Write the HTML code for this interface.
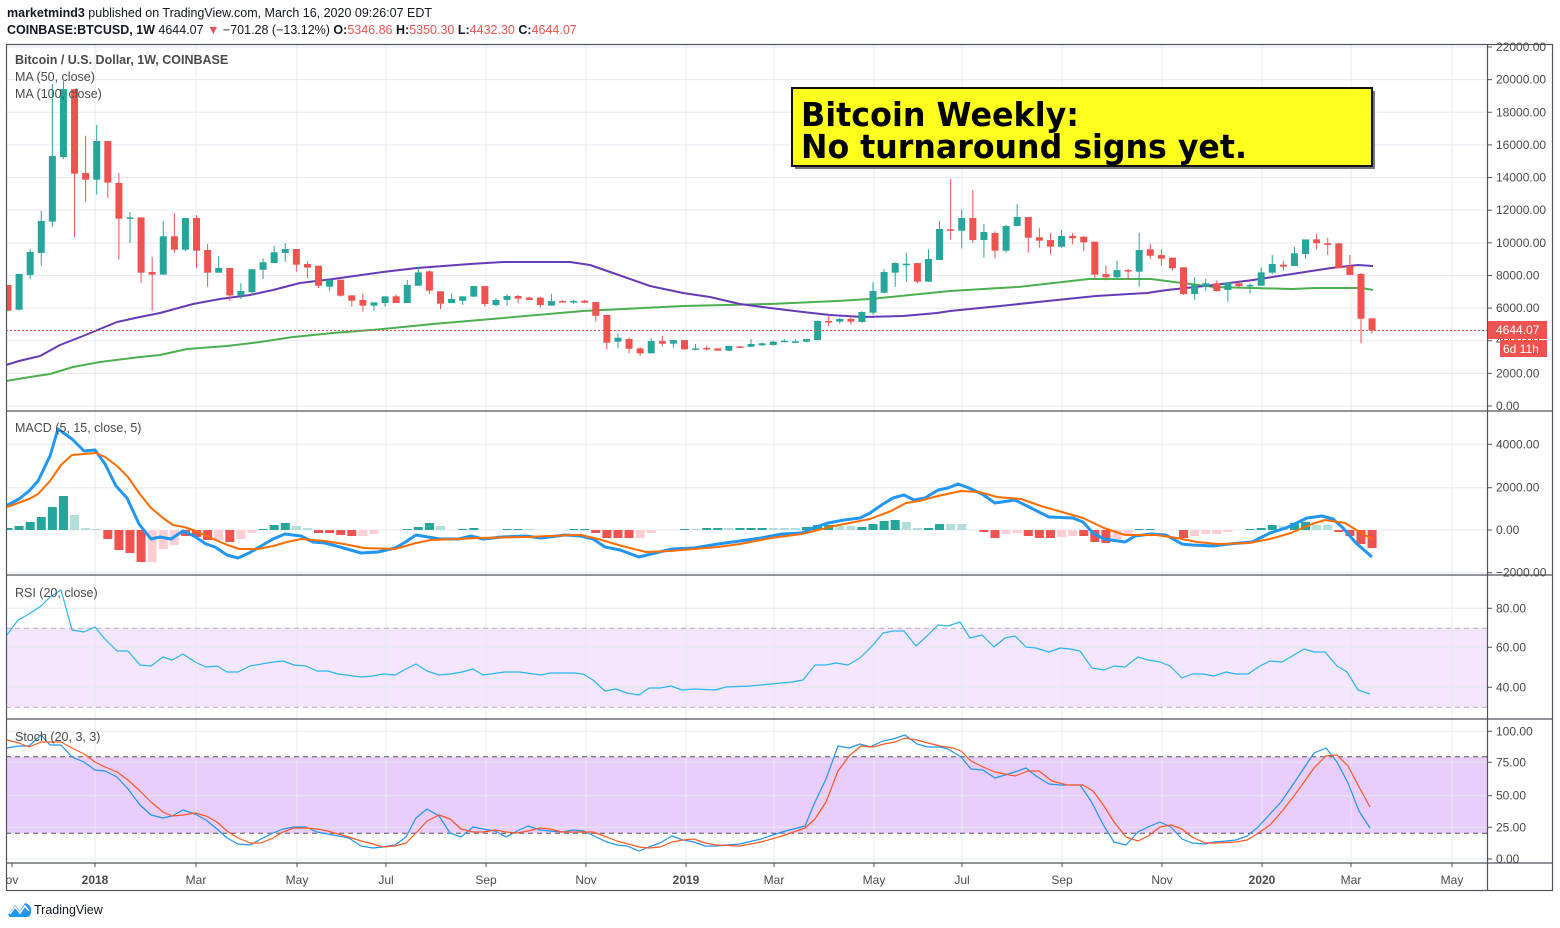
<!DOCTYPE html>
<html><head><meta charset="utf-8">
<style>
html,body{margin:0;padding:0;background:#fff;width:1560px;height:928px;overflow:hidden}
svg{display:block;font-family:"Liberation Sans",sans-serif}
</style></head>
<body>
<svg id="s" width="1560" height="928" viewBox="0 0 1560 928" xmlns="http://www.w3.org/2000/svg">
<text x="7" y="17" font-size="12.5" fill="#131722"><tspan font-weight="bold">marketmind3</tspan> published on TradingView.com, March 16, 2020 09:26:07 EDT</text>
<text x="7" y="34" font-size="12.5" fill="#131722"><tspan font-weight="bold">COINBASE:BTCUSD, 1W</tspan> 4644.07 <tspan fill="#ef5350">▼</tspan> −701.28 (−13.12%) <tspan font-weight="bold">O:</tspan><tspan fill="#ef5350">5346.86</tspan> <tspan font-weight="bold">H:</tspan><tspan fill="#ef5350">5350.30</tspan> <tspan font-weight="bold">L:</tspan><tspan fill="#ef5350">4432.30</tspan> <tspan font-weight="bold">C:</tspan><tspan fill="#ef5350">4644.07</tspan></text>
<g id="g"></g>
</svg>
<script>
(function(){
var NS="http://www.w3.org/2000/svg",G=document.getElementById('g'),out='';
function px(i){return 8+11.09*i}
function py(p){return 406-p*0.016318}
// rsi fill / stoch fill
out+='<rect x="6" y="628.3" width="1481" height="79" fill="#f4e6fd"/>';
out+='<rect x="6" y="756.7" width="1481" height="76.6" fill="#e9cdfc"/>';
// grid
var vx=[95,196,297,386,486,586,686,774,874,962,1062,1162,1262,1351,1452];
vx.forEach(function(x){out+='<line x1="'+x+'" y1="44" x2="'+x+'" y2="862" stroke="#e3eaf0" stroke-width="1"/>';});
var hy=[];for(var k=0;k<=11;k++)hy.push(406-32.636*k);
[444.3,487.7,530,572.7,608.3,647.3,687.3,731.3,762.3,795.7,827.3,859].forEach(function(y){hy.push(y)});
hy.forEach(function(y){out+='<line x1="6" y1="'+y+'" x2="1487" y2="'+y+'" stroke="#e3eaf0" stroke-width="1"/>';});
out+='<line x1="6" y1="628.3" x2="1487" y2="628.3" stroke="#b9a6c4" stroke-dasharray="5,4"/>';
out+='<line x1="6" y1="707.3" x2="1487" y2="707.3" stroke="#b9a6c4" stroke-dasharray="5,4"/>';
out+='<line x1="6" y1="756.7" x2="1487" y2="756.7" stroke="#555" stroke-dasharray="5,4"/>';
out+='<line x1="6" y1="833.3" x2="1487" y2="833.3" stroke="#555" stroke-dasharray="5,4"/>';
// MAs
function pl(pts,c,w){out+='<polyline fill="none" stroke="'+c+'" stroke-width="'+w+'" stroke-linejoin="round" points="'+pts+'"/>';}
pl("6,381 30,377 50,374 73,367 100,362 140,357 160,355 187,349 227,346 260,342 293,337 333,333 383,329 433,324 480,320 583,311 683,306 770,304 837,301 870,299 950,291 1018,287 1089,279 1151,279 1182,283 1214,287 1292,289 1315,288 1362,288 1373,290","#4caf50",2);
pl("6,365 19,361 40,356 60,345 83,336 100,329 117,322 140,317 160,313 193,304 220,299 250,295 273,290 300,283 333,279 383,272 417,268 470,264 503,262 570,262 590,265 613,273 650,286 683,293 710,297 740,304 770,308 803,312 830,315 863,317 903,316 937,313 950,311 1000,306 1057,300 1096,296 1147,293 1167,290 1214,285 1253,280 1292,274 1331,268 1358,265 1373,266","#673ab7",2);
// candles
var C=[[7415,7415,5800,5840],[5900,8100,5850,8090],[8030,9620,7780,9440],[9380,11970,8600,11340],[11300,19730,10970,15320],[15260,19900,15140,19420],[19420,19420,10360,14240],[14280,16560,12520,13870],[13870,17220,12950,16240],[16240,16240,12750,13690],[13670,14280,8970,11480],[11480,11890,9990,11560],[11560,11560,7540,8170],[8210,9130,5840,8050],[8050,11340,8050,10400],[10400,11830,9380,9580],[9580,11520,9500,11520],[11520,11690,8440,9520],[9560,9930,7310,8170],[8170,9190,8170,8460],[8460,8460,6450,6780],[6780,7540,6560,7050],[6970,8380,6800,8380],[8350,9050,7780,8810],[8760,9820,8760,9420],[9380,9990,8840,9620],[9620,9620,8230,8660],[8700,8870,7840,8480],[8600,8600,7230,7370],[7310,7740,7030,7740],[7740,7740,6700,6760],[6780,6780,6090,6450],[6500,6870,5780,6150],[6150,6350,5840,6350],[6310,6720,6100,6720],[6720,6840,6310,6310],[6310,7720,6310,7420],[7370,8540,7370,8190],[8250,8300,6860,7070],[7030,7030,5940,6270],[6310,6900,6310,6560],[6450,6720,6200,6720],[6700,7350,6700,7350],[7350,7350,6090,6250],[6190,6600,6100,6500],[6500,6860,6150,6740],[6740,6800,6300,6580],[6640,6700,6500,6500],[6640,6700,6020,6190],[6150,6860,6150,6430],[6430,6480,6380,6400],[6400,6500,6250,6430],[6450,6500,6300,6330],[6370,6370,5170,5530],[5580,5580,3470,3880],[3940,4450,3530,4180],[4100,4200,3230,3510],[3530,3600,3080,3230],[3230,4150,3230,3980],[3980,4300,3650,3820],[3820,4040,3580,4040],[4040,4040,3450,3470],[3510,3800,3420,3530],[3560,3700,3400,3530],[3530,3530,3390,3390],[3390,3700,3360,3680],[3650,3680,3590,3630],[3630,4100,3600,3800],[3720,3900,3680,3840],[3740,4000,3700,3940],[3940,4100,3900,4000],[3950,4100,3900,3960],[3940,4100,3900,4100],[4040,5250,4040,5210],[5210,5500,4900,5190],[5170,5400,5050,5330],[5330,5500,5000,5170],[5150,5800,5100,5760],[5720,7580,5600,7050],[6940,8400,6900,8210],[8170,8800,7300,8760],[8700,9400,7600,8720],[8760,8760,7500,7620],[7620,9600,7600,9010],[8950,11340,8950,10850],[10830,13910,10200,10750],[10740,12050,9660,11520],[11520,13240,10000,10170],[10170,11150,9090,10660],[10600,10700,9050,9520],[9520,11100,9400,11030],[11030,12380,11030,11580],[11580,11580,9400,10310],[10340,10900,9700,10130],[10170,10600,9300,9760],[9760,10800,9700,10420],[10420,10600,9900,10280],[10380,10380,9500,10030],[10070,10070,7800,8050],[8090,8600,7700,7890],[7890,8900,7750,8330],[8330,8400,7750,8300],[8230,10620,7310,9560],[9600,9950,9000,9210],[9250,9600,8600,9030],[9090,9100,8300,8440],[8500,8500,6800,6860],[6860,7900,6500,7420],[7310,7800,7050,7520],[7520,7700,7000,7050],[7110,7560,6390,7560],[7520,7700,7200,7350],[7400,7500,6900,7420],[7370,8500,7370,8190],[8170,9250,8100,8700],[8660,8900,8300,8540],[8580,9750,8580,9360],[9310,10200,9000,10210],[10210,10540,9600,9970],[9970,10300,9250,9870],[9970,10000,8440,8440],[8580,9250,8000,8030],[8090,8150,3840,5350],[5370,5370,4440,4640]];
C.forEach(function(c,i){
 var x=px(i),up=c[3]>=c[0],col=up?'#26a69a':'#ef5350';
 var t=py(Math.max(c[0],c[3])),b=py(Math.min(c[0],c[3]));if(b-t<1.5){b=t+1.5;}
 var xs=Math.max(x-3.5,6.5);
 out+='<line x1="'+x+'" y1="'+py(c[1])+'" x2="'+x+'" y2="'+py(c[2])+'" stroke="'+col+'" stroke-width="1"/>';
 out+='<rect x="'+xs+'" y="'+t+'" width="'+(x+3.5-xs)+'" height="'+(b-t)+'" fill="'+col+'"/>';
});
// last price line
out+='<line x1="6" y1="330.5" x2="1487" y2="330.5" stroke="#ef5350" stroke-dasharray="2,2"/>';
// MACD histogram
var H={0:[2,'g'],1:[4,'g'],2:[8,'g'],3:[13,'g'],4:[23,'g'],5:[34,'g'],6:[15,'l'],7:[2,'l'],8:[1,'l'],9:[-9,'r'],10:[-20,'r'],11:[-23,'r'],12:[-32,'r'],13:[-32,'p'],14:[-19,'p'],15:[-15,'p'],16:[-6,'r'],17:[-7,'r'],18:[-10,'r'],19:[-10,'p'],20:[-12,'r'],21:[-9,'p'],22:[-3,'p'],23:[1,'g'],24:[5,'g'],25:[7,'g'],26:[4,'l'],27:[2,'l'],28:[-3,'r'],29:[-3,'r'],30:[-5,'r'],31:[-6,'r'],32:[-6,'p'],33:[-4,'p'],36:[1,'g'],37:[3,'g'],38:[7,'g'],39:[4,'l'],41:[1,'g'],42:[2,'g'],45:[1,'g'],46:[1,'g'],47:[1,'l'],51:[1,'g'],52:[1,'g'],53:[-3,'r'],54:[-8,'r'],55:[-8,'r'],56:[-8,'r'],57:[-8,'p'],58:[-3,'p'],61:[1,'g'],62:[1,'l'],63:[2,'g'],64:[2,'g'],65:[2,'l'],66:[2,'g'],67:[2,'g'],68:[2,'g'],69:[2,'l'],70:[2,'l'],71:[2,'l'],72:[3,'g'],73:[5,'g'],74:[5,'g'],75:[4,'l'],76:[4,'l'],77:[3,'g'],78:[6,'g'],79:[9,'g'],80:[10,'g'],81:[8,'l'],82:[2,'l'],83:[2,'g'],84:[6,'g'],85:[6,'l'],86:[6,'l'],88:[-2,'r'],89:[-8,'r'],90:[-4,'p'],91:[-3,'p'],92:[-6,'r'],93:[-8,'r'],94:[-8,'r'],95:[-7,'p'],96:[-6,'p'],97:[-6,'r'],98:[-12,'r'],99:[-13,'r'],100:[-9,'p'],101:[-4,'p'],102:[1,'g'],103:[1,'g'],106:[-8,'r'],107:[-6,'p'],108:[-4,'p'],109:[-4,'p'],110:[-2,'p'],112:[1,'g'],113:[2,'g'],114:[5,'g'],115:[4,'l'],116:[7,'g'],117:[8,'g'],118:[5,'l'],119:[5,'l'],120:[-2,'r'],121:[-6,'r'],122:[-14,'r'],123:[-18,'r']};
var HC={g:'#26a69a',l:'#b2dfdb',r:'#ef5350',p:'#ffcdd2'};
for(var k in H){var v=H[k][0],x=px(+k),xs=Math.max(x-4.5,6.5);
 out+='<rect x="'+xs+'" y="'+(v>0?530-v:530)+'" width="'+(x+4.5-xs)+'" height="'+Math.abs(v)+'" fill="'+HC[H[k][1]]+'"/>';}
// MACD lines
pl("6,506 19,499 29,491 38,481 50,456 58,429 72,439 84,451 95,450 105,464 116,486 127,498 139,524 151,539 160,537 171,539 183,531 194,536 206,544 215,547 227,555 238,558 249,553 261,546 273,539 285,534 301,536 313,542 325,543 340,547 361,553 378,552 395,548 404,543 416,535 428,537 440,539 459,539 471,536 483,539 502,537 526,536 541,538 565,535 581,536 593,539 605,547 620,550 639,557 651,554 672,549 694,548 718,544 740,541 761,538 782,534 802,533 813,528 828,523 844,520 860,518 870,513 883,504 893,498 904,495 914,500 925,498 938,490 948,488 958,484 969,488 982,494 995,503 1015,500 1031,508 1049,517 1073,518 1083,522 1093,533 1104,539 1125,542 1135,536 1151,534 1166,535 1182,544 1192,545 1213,546 1229,544 1252,542 1270,533 1286,528 1307,518 1322,516 1333,519 1343,528 1356,543 1372,557","#2196f3",3);
pl("6,507 10,506 29,499 38,494 50,481 61,465 72,455 96,453 105,457 117,466 128,477 139,493 151,508 163,518 173,525 184,527 196,531 211,538 225,544 239,549 258,549 273,546 287,542 301,539 325,541 344,544 364,548 395,549 416,543 431,540 459,539 478,538 526,537 574,535 581,535 598,539 622,546 646,552 670,551 718,547 740,544 771,538 802,534 834,526 870,519 891,511 906,503 919,501 938,496 961,491 979,492 997,497 1021,499 1041,506 1062,512 1083,518 1104,528 1125,535 1156,535 1177,538 1197,542 1218,544 1249,543 1270,539 1291,533 1312,524 1325,520 1345,523 1358,531 1372,539","#ff6d00",2);
// RSI
pl("7,635 18,620 29,614 41,606 50,597 61,590 72,630 84,632 95,627 104,638 117,651 128,651 140,665 151,666 163,657 172,660 183,654 195,662 206,667 217,666 227,672 238,672 250,666 273,662 283,661 294,665 306,666 317,671 328,671 338,674 361,677 373,676 383,674 395,675 406,669 416,664 427,671 439,675 450,674 462,672 473,669 483,675 505,672 519,672 541,675 550,673 574,673 583,674 593,680 605,691 616,689 627,693 639,695 649,688 660,688 671,686 682,690 694,689 715,690 726,687 750,686 792,682 803,680 815,665 826,665 836,663 848,665 860,658 873,645 883,633 893,631 904,631 916,646 927,636 938,625 948,626 960,622 970,638 982,635 994,647 1005,638 1015,636 1026,647 1036,648 1049,652 1060,648 1070,649 1080,651 1092,668 1104,670 1114,666 1125,667 1138,657 1148,660 1160,662 1170,666 1182,678 1192,674 1203,674 1214,676 1226,672 1236,674 1248,674 1260,666 1270,661 1282,662 1294,655 1304,649 1314,652 1325,652 1337,666 1347,672 1358,690 1370,694","#29b6f6",1.2);
// Stoch
pl("7,748 19,746 29,746 41,735 50,745 61,745 72,757 84,762 95,770 105,771 117,777 128,789 140,805 151,815 163,818 172,816 183,810 195,814 206,820 217,829 227,838 238,844 250,845 261,839 273,833 283,829 294,827 306,827 317,832 328,834 338,836 349,838 361,846 373,848 383,847 395,845 406,837 416,818 427,809 439,816 450,833 461,837 473,827 483,829 495,831 506,837 517,831 528,826 540,830 550,831 562,832 573,830 584,831 596,837 607,842 617,845 627,846 639,851 649,847 660,843 672,836 683,840 694,842 705,846 716,846 727,845 740,844 761,839 782,832 805,826 815,802 826,779 838,746 849,748 860,744 870,747 883,741 893,739 905,735 917,744 928,747 940,747 948,749 961,757 971,769 983,770 995,778 1005,775 1015,772 1026,768 1036,776 1049,784 1060,785 1080,785 1091,801 1104,826 1114,842 1126,845 1138,832 1148,827 1160,822 1171,827 1182,839 1192,843 1205,844 1214,842 1226,841 1236,840 1247,836 1257,828 1270,814 1281,802 1292,786 1304,768 1314,753 1326,748 1337,762 1348,783 1359,811 1370,828","#2196f3",1.2);
pl("7,740 19,743 29,747 41,742 61,742 72,748 84,754 95,762 105,767 117,772 128,780 140,791 151,802 163,812 172,816 183,815 195,813 206,816 217,822 227,831 238,838 250,843 261,843 273,838 283,832 294,828 306,828 317,829 328,831 338,834 349,837 361,841 373,844 383,847 395,846 406,843 416,833 427,821 439,815 450,819 461,829 473,832 483,832 495,830 506,832 517,833 528,831 540,828 550,829 562,832 573,832 593,832 607,837 617,841 639,847 649,848 660,847 672,842 683,840 694,839 705,843 716,845 740,846 761,842 782,836 805,828 815,819 826,802 838,771 849,756 861,746 873,747 884,744 895,742 905,738 917,740 928,743 940,746 953,748 961,751 971,761 983,767 995,772 1015,776 1028,771 1039,771 1052,781 1067,785 1083,785 1093,791 1104,806 1114,822 1126,837 1138,841 1148,836 1160,827 1171,825 1182,829 1192,837 1205,843 1216,843 1236,842 1247,840 1257,834 1270,825 1283,810 1294,796 1304,782 1314,768 1326,756 1337,755 1348,766 1359,787 1370,807","#ff5722",1.2);
// frame & separators
out+='<rect x="0" y="44" width="6" height="850" fill="#fff"/>';
out+='<rect x="1487.5" y="44" width="66" height="820" fill="#fff"/>';
out+='<rect x="6.5" y="44.5" width="1546" height="846" fill="none" stroke="#50535e" stroke-width="1.2"/>';
[411,575,719].forEach(function(y){out+='<line x1="6" y1="'+y+'" x2="1553" y2="'+y+'" stroke="#50535e" stroke-width="1.3"/>';});
out+='<line x1="6" y1="863" x2="1553" y2="863" stroke="#50535e" stroke-width="1.3"/>';
out+='<line x1="1487.5" y1="44" x2="1487.5" y2="891" stroke="#50535e" stroke-width="1.2"/>';
// axis labels
function lab(y,t){out+='<line x1="1487" y1="'+y+'" x2="1492" y2="'+y+'" stroke="#50535e"/><text x="1496" y="'+(y+4)+'" font-size="12" fill="#4a4a4a">'+t+'</text>';}
for(var k=0;k<=11;k++)lab(406-32.636*k,(2000*k)+'.00');
lab(444.3,'4000.00');lab(487.7,'2000.00');lab(530,'0.00');lab(572.7,'−2000.00');
lab(608.3,'80.00');lab(647.3,'60.00');lab(687.3,'40.00');
lab(731.3,'100.00');lab(762.3,'75.00');lab(795.7,'50.00');lab(827.3,'25.00');lab(859,'0.00');
out+='<rect x="0" y="573" width="1560" height="1.5" fill="#50535e" opacity="0"/>';
// price tags
out+='<rect x="1488" y="321" width="59" height="18" fill="#ef5350"/><text x="1496" y="334" font-size="12" fill="#fff">4644.07</text>';
out+='<rect x="1500" y="340" width="47" height="17" fill="#ef5350"/><text x="1503" y="353" font-size="12" fill="#fff">6d 11h</text>';
// time labels
var T=[[12,'ov',0],[95,'2018',1],[196,'Mar',0],[297,'May',0],[386,'Jul',0],[486,'Sep',0],[586,'Nov',0],[686,'2019',1],[774,'Mar',0],[874,'May',0],[962,'Jul',0],[1062,'Sep',0],[1162,'Nov',0],[1262,'2020',1],[1351,'Mar',0],[1452,'May',0]];
T.forEach(function(t){out+='<line x1="'+t[0]+'" y1="863" x2="'+t[0]+'" y2="867" stroke="#50535e"/>';
 out+='<text x="'+t[0]+'" y="884" font-size="12" text-anchor="middle" fill="#4a4a4a"'+(t[2]?' font-weight="bold"':'')+'>'+t[1]+'</text>';});
// legends
out+='<text x="15" y="64" font-size="12.5" font-weight="bold" fill="#4a4a4a">Bitcoin / U.S. Dollar, 1W, COINBASE</text>';
out+='<text x="15" y="81" font-size="12.5" fill="#4a4a4a">MA (50, close)</text>';
out+='<text x="15" y="98" font-size="12.5" fill="#4a4a4a">MA (100, close)</text>';
out+='<text x="15" y="432" font-size="12.5" fill="#4a4a4a">MACD (5, 15, close, 5)</text>';
out+='<text x="15" y="597" font-size="12.5" fill="#4a4a4a">RSI (20, close)</text>';
out+='<text x="15" y="741" font-size="12.5" fill="#4a4a4a">Stoch (20, 3, 3)</text>';
// annotation box
out+='<rect x="795" y="91" width="580" height="78" fill="#777"/>';
out+='<rect x="792" y="88" width="580" height="78" fill="#ffff1e" stroke="#111" stroke-width="2"/>';
out+='<text x="801" y="126" font-family="DejaVu Sans,sans-serif" font-weight="bold" font-size="33" fill="#000" textLength="278" lengthAdjust="spacingAndGlyphs">Bitcoin Weekly:</text>';
out+='<text x="801" y="158" font-family="DejaVu Sans,sans-serif" font-weight="bold" font-size="33" fill="#000" textLength="446" lengthAdjust="spacingAndGlyphs">No turnaround signs yet.</text>';
// logo
out+='<path d="M8 915 L15 905 L20 911 L25 903 Q32 905 31 912 Q31 917 26 917 L10 917 Z" fill="#2196f3"/>';
out+='<polyline points="10,914 15,907 20,913 25,906 29,911" fill="none" stroke="#fff" stroke-width="1.5"/>';
out+='<text x="34" y="914" font-size="12.5" fill="#131722">TradingView</text>';
G.innerHTML=out;
})();
</script>
</body></html>
